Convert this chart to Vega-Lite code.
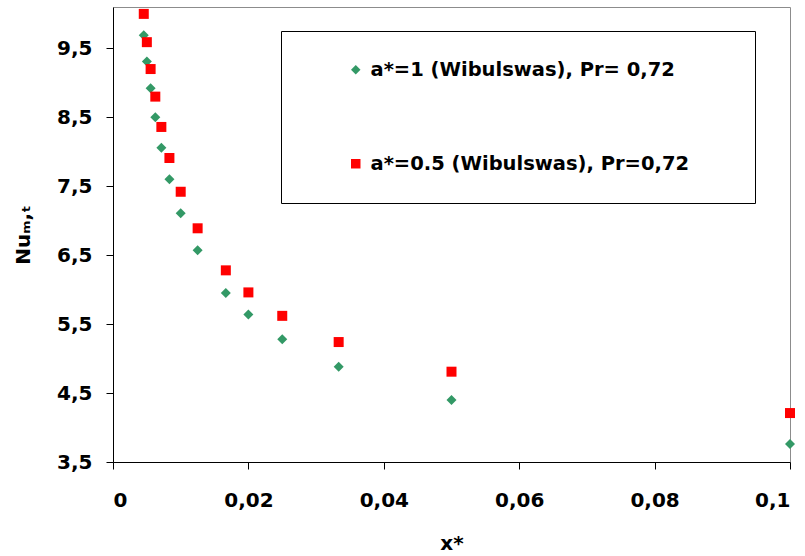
{
  "$schema": "https://vega.github.io/schema/vega-lite/v6.json",
  "autosize": "none",
  "width": 677,
  "height": 455,
  "padding": {"left": 113, "top": 7, "right": 15, "bottom": 94},
  "background": "white",
  "config": {
    "font": "DejaVu Sans",
    "view": {"stroke": "#8c8c8c", "strokeWidth": 1},
    "axis": {
      "grid": false,
      "domainColor": "#000000",
      "domainWidth": 1,
      "tickColor": "#000000",
      "tickSize": 7,
      "labelFont": "DejaVu Sans",
      "labelFontSize": 20,
      "labelFontWeight": "bold",
      "labelColor": "#000000",
      "titleFont": "DejaVu Sans",
      "titleFontSize": 20,
      "titleFontWeight": "bold",
      "titleColor": "#000000"
    }
  },
  "data": {
    "values": [
      {"x": 0.004545, "nu": 9.69, "series": "a*=1 (Wibulswas), Pr= 0,72"},
      {"x": 0.005, "nu": 9.31, "series": "a*=1 (Wibulswas), Pr= 0,72"},
      {"x": 0.005556, "nu": 8.92, "series": "a*=1 (Wibulswas), Pr= 0,72"},
      {"x": 0.00625, "nu": 8.5, "series": "a*=1 (Wibulswas), Pr= 0,72"},
      {"x": 0.007143, "nu": 8.06, "series": "a*=1 (Wibulswas), Pr= 0,72"},
      {"x": 0.008333, "nu": 7.6, "series": "a*=1 (Wibulswas), Pr= 0,72"},
      {"x": 0.01, "nu": 7.11, "series": "a*=1 (Wibulswas), Pr= 0,72"},
      {"x": 0.0125, "nu": 6.57, "series": "a*=1 (Wibulswas), Pr= 0,72"},
      {"x": 0.016667, "nu": 5.95, "series": "a*=1 (Wibulswas), Pr= 0,72"},
      {"x": 0.02, "nu": 5.64, "series": "a*=1 (Wibulswas), Pr= 0,72"},
      {"x": 0.025, "nu": 5.28, "series": "a*=1 (Wibulswas), Pr= 0,72"},
      {"x": 0.033333, "nu": 4.88, "series": "a*=1 (Wibulswas), Pr= 0,72"},
      {"x": 0.05, "nu": 4.4, "series": "a*=1 (Wibulswas), Pr= 0,72"},
      {"x": 0.1, "nu": 3.76, "series": "a*=1 (Wibulswas), Pr= 0,72"},
      {"x": 0.004545, "nu": 10.0, "series": "a*=0.5  (Wibulswas), Pr=0,72"},
      {"x": 0.005, "nu": 9.59, "series": "a*=0.5  (Wibulswas), Pr=0,72"},
      {"x": 0.005556, "nu": 9.2, "series": "a*=0.5  (Wibulswas), Pr=0,72"},
      {"x": 0.00625, "nu": 8.8, "series": "a*=0.5  (Wibulswas), Pr=0,72"},
      {"x": 0.007143, "nu": 8.36, "series": "a*=0.5  (Wibulswas), Pr=0,72"},
      {"x": 0.008333, "nu": 7.91, "series": "a*=0.5  (Wibulswas), Pr=0,72"},
      {"x": 0.01, "nu": 7.42, "series": "a*=0.5  (Wibulswas), Pr=0,72"},
      {"x": 0.0125, "nu": 6.89, "series": "a*=0.5  (Wibulswas), Pr=0,72"},
      {"x": 0.016667, "nu": 6.28, "series": "a*=0.5  (Wibulswas), Pr=0,72"},
      {"x": 0.02, "nu": 5.96, "series": "a*=0.5  (Wibulswas), Pr=0,72"},
      {"x": 0.025, "nu": 5.62, "series": "a*=0.5  (Wibulswas), Pr=0,72"},
      {"x": 0.033333, "nu": 5.24, "series": "a*=0.5  (Wibulswas), Pr=0,72"},
      {"x": 0.05, "nu": 4.81, "series": "a*=0.5  (Wibulswas), Pr=0,72"},
      {"x": 0.1, "nu": 4.21, "series": "a*=0.5  (Wibulswas), Pr=0,72"}
    ]
  },
  "mark": {"type": "point", "filled": true, "opacity": 1, "size": 100},
  "encoding": {
    "x": {
      "field": "x",
      "type": "quantitative",
      "title": "x*",
      "scale": {"domain": [0, 0.1], "nice": false, "zero": false},
      "axis": {
        "values": [0, 0.02, 0.04, 0.06, 0.08, 0.1],
        "labelExpr": "replace(format(datum.value, '~g'), '.', ',')",
        "labelPadding": 21,
        "titlePadding": 23
      }
    },
    "y": {
      "field": "nu",
      "type": "quantitative",
      "title": "Nuₘ,ₜ",
      "scale": {"domain": [3.5, 10.1], "nice": false, "zero": false},
      "axis": {
        "values": [3.5, 4.5, 5.5, 6.5, 7.5, 8.5, 9.5],
        "labelExpr": "replace(format(datum.value, '.1f'), '.', ',')",
        "labelPadding": 14,
        "titlePadding": 23
      }
    },
    "color": {
      "field": "series",
      "type": "nominal",
      "sort": null,
      "scale": {
        "domain": ["a*=1 (Wibulswas), Pr= 0,72", "a*=0.5  (Wibulswas), Pr=0,72"],
        "range": ["#339966", "#ff0000"]
      },
      "legend": {
        "title": " ",
        "titleOrient": "right",
        "titlePadding": 30,
        "titleFontSize": 4,
        "orient": "none",
        "legendX": 168,
        "legendY": 24,
        "padding": 29,
        "rowPadding": 73,
        "strokeColor": "#000000",
        "fillColor": "#ffffff",
        "labelFont": "DejaVu Sans",
        "labelFontSize": 19.5,
        "labelFontWeight": "bold",
        "labelColor": "#000000",
        "labelLimit": 500,
        "labelOffset": 5,
        "symbolSize": 90,
        "symbolOffset": 36
      }
    },
    "shape": {
      "field": "series",
      "type": "nominal",
      "sort": null,
      "scale": {
        "domain": ["a*=1 (Wibulswas), Pr= 0,72", "a*=0.5  (Wibulswas), Pr=0,72"],
        "range": ["diamond", "square"]
      }
    }
  }
}
